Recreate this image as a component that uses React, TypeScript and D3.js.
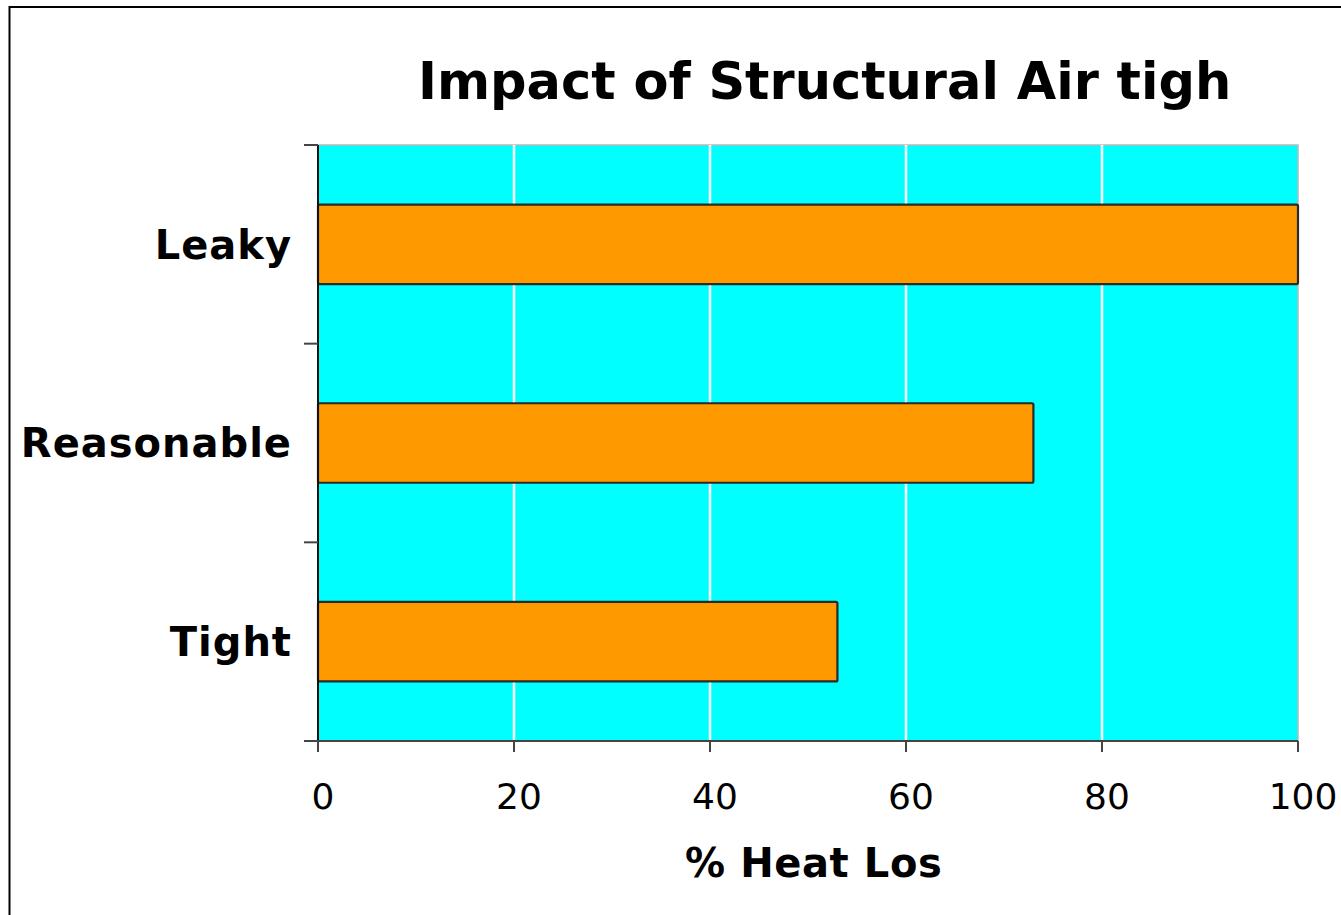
import React, { useEffect, useRef } from 'react';
import * as d3 from 'd3';

// chart data
const categories = ['Leaky', 'Reasonable', 'Tight'];
const heatLoss = [100, 73, 53];
const xTicks = [0, 20, 40, 60, 80, 100];
const titleText = 'Impact of Structural Air tigh';
const xTitleText = '% Heat Los';

const W = 1341;
const H = 915;
const FONT = '"DejaVu Sans", Verdana, sans-serif';

const App = () => {
  const svgRef = useRef<SVGSVGElement>(null);

  useEffect(() => {
    const svg = d3.select(svgRef.current);
    svg.selectAll('*').remove();

    const left = 318;
    const right = 1298;
    const top = 145;
    const bottom = 741;

    const x = d3.scaleLinear().domain([0, 100]).range([left, right]);
    const y = d3
      .scaleBand<string>()
      .domain(categories)
      .range([top, bottom])
      .paddingInner(0.6)
      .paddingOuter(0.3);

    // outer frame (extends past the picture)
    svg
      .append('rect')
      .attr('x', 9.5)
      .attr('y', 7)
      .attr('width', 3000)
      .attr('height', 3000)
      .attr('fill', 'white')
      .attr('stroke', '#000')
      .attr('stroke-width', 2);

    // plot background
    svg
      .append('rect')
      .attr('x', left)
      .attr('y', top)
      .attr('width', right - left)
      .attr('height', bottom - top)
      .attr('fill', '#00ffff')
      .attr('stroke', '#b8b8b8')
      .attr('stroke-width', 1.5);

    // vertical grid
    svg
      .append('g')
      .selectAll('line')
      .data(xTicks.filter(t => t > 0 && t < 100))
      .join('line')
      .attr('x1', d => x(d))
      .attr('x2', d => x(d))
      .attr('y1', top)
      .attr('y2', bottom)
      .attr('stroke', '#ffffff')
      .attr('stroke-width', 2.5);

    // bars
    svg
      .append('g')
      .selectAll('rect')
      .data(categories)
      .join('rect')
      .attr('x', x(0))
      .attr('y', d => y(d)!)
      .attr('width', (d, i) => x(heatLoss[i]) - x(0))
      .attr('height', y.bandwidth())
      .attr('rx', 1.5)
      .attr('fill', '#ff9900')
      .attr('stroke', '#2a2a2a')
      .attr('stroke-width', 2.2);

    // y axis
    const step = y.step();
    const bounds = categories.map(c => y(c)! - step * y.paddingOuter());
    bounds.push(bottom);
    const yAxis = svg.append('g');
    yAxis
      .append('line')
      .attr('x1', left)
      .attr('x2', left)
      .attr('y1', top)
      .attr('y2', bottom)
      .attr('stroke', '#111')
      .attr('stroke-width', 2);
    yAxis
      .selectAll('line.tick')
      .data(bounds)
      .join('line')
      .attr('class', 'tick')
      .attr('x1', 304)
      .attr('x2', left)
      .attr('y1', d => d)
      .attr('y2', d => d)
      .attr('stroke', '#444')
      .attr('stroke-width', 2);
    yAxis
      .selectAll('text')
      .data(categories)
      .join('text')
      .attr('x', 292)
      .attr('y', d => y(d)! + y.bandwidth() / 2)
      .attr('dy', '0.36em')
      .attr('text-anchor', 'end')
      .attr('font-family', FONT)
      .attr('font-weight', 'bold')
      .attr('font-size', 40)
      .attr('letter-spacing', 1)
      .attr('fill', '#000')
      .text(d => d);

    // x axis
    const xAxis = svg.append('g');
    xAxis
      .append('line')
      .attr('x1', 304)
      .attr('x2', right)
      .attr('y1', bottom)
      .attr('y2', bottom)
      .attr('stroke', '#444')
      .attr('stroke-width', 2);
    xAxis
      .selectAll('line.tick')
      .data(xTicks)
      .join('line')
      .attr('class', 'tick')
      .attr('x1', d => x(d))
      .attr('x2', d => x(d))
      .attr('y1', bottom)
      .attr('y2', bottom + 11)
      .attr('stroke', '#444')
      .attr('stroke-width', 2);
    xAxis
      .selectAll('text')
      .data(xTicks)
      .join('text')
      .attr('x', d => x(d) + 5)
      .attr('y', 809)
      .attr('text-anchor', 'middle')
      .attr('font-family', FONT)
      .attr('font-size', 36)
      .attr('fill', '#000')
      .text(d => d);

    // titles
    svg
      .append('text')
      .attr('x', 418)
      .attr('y', 99)
      .attr('font-family', FONT)
      .attr('font-weight', 'bold')
      .attr('font-size', 51)
      .attr('fill', '#000')
      .text(titleText);

    svg
      .append('text')
      .attr('x', 685)
      .attr('y', 877)
      .attr('font-family', FONT)
      .attr('font-weight', 'bold')
      .attr('font-size', 40)
      .attr('letter-spacing', 0.6)
      .attr('fill', '#000')
      .text(xTitleText);
  }, []);

  return (
    <svg
      ref={svgRef}
      width={W}
      height={H}
      style={{ position: 'absolute', left: 0, top: 0, background: 'white' }}
    />
  );
};

export default App;
